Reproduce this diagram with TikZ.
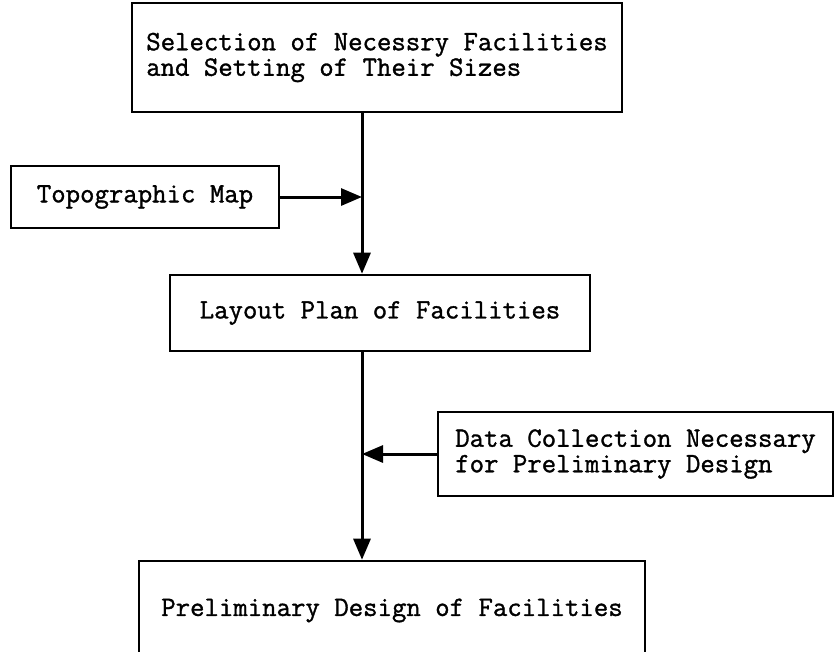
\documentclass[tikz,border=0pt]{standalone}
\usepackage{fontspec}
\newfontfamily\typewriter[FakeBold=1.2]{Latin Modern Mono}
\usetikzlibrary{arrows.meta}

\begin{document}
\begin{tikzpicture}[
  x=1pt, y=-1pt,
  box/.style={draw, line width=2.6pt, align=left, inner sep=0pt,
    font=\typewriter\fontsize{28}{25.5}\selectfont},
  flow/.style={line width=3pt},
  >={Triangle[length=21pt,width=17pt]}
]
  \useasboundingbox[fill=white] (0,0) rectangle (835,651);
  \coordinate (spine) at (362,0);
  \node[box, minimum width=490pt, minimum height=109pt] (sel) at (377,57.5)
    {Selection of Necessry Facilities\\and Setting of Their Sizes};
  \node[box, minimum width=268pt, minimum height=62pt] (topo) at (145,197) {Topographic Map};
  \node[box, minimum width=420pt, minimum height=76pt] (layout) at (380,313) {Layout Plan of Facilities};
  \node[box, minimum width=395pt, minimum height=84pt] (data) at (635.5,454)
    {Data Collection Necessary\\for Preliminary Design};
  \node[box, minimum width=506pt, minimum height=99pt] (prelim) at (392,610.5)
    {Preliminary Design of Facilities};
  \draw[flow,->] (sel.south -| spine) -- (layout.north -| spine);
  \draw[flow,->] (topo.east) -- (topo.east -| spine);
  \draw[flow,->] (layout.south -| spine) -- (prelim.north -| spine);
  \draw[flow,->] (data.west) -- (data.west -| spine);
\end{tikzpicture}
\end{document}
